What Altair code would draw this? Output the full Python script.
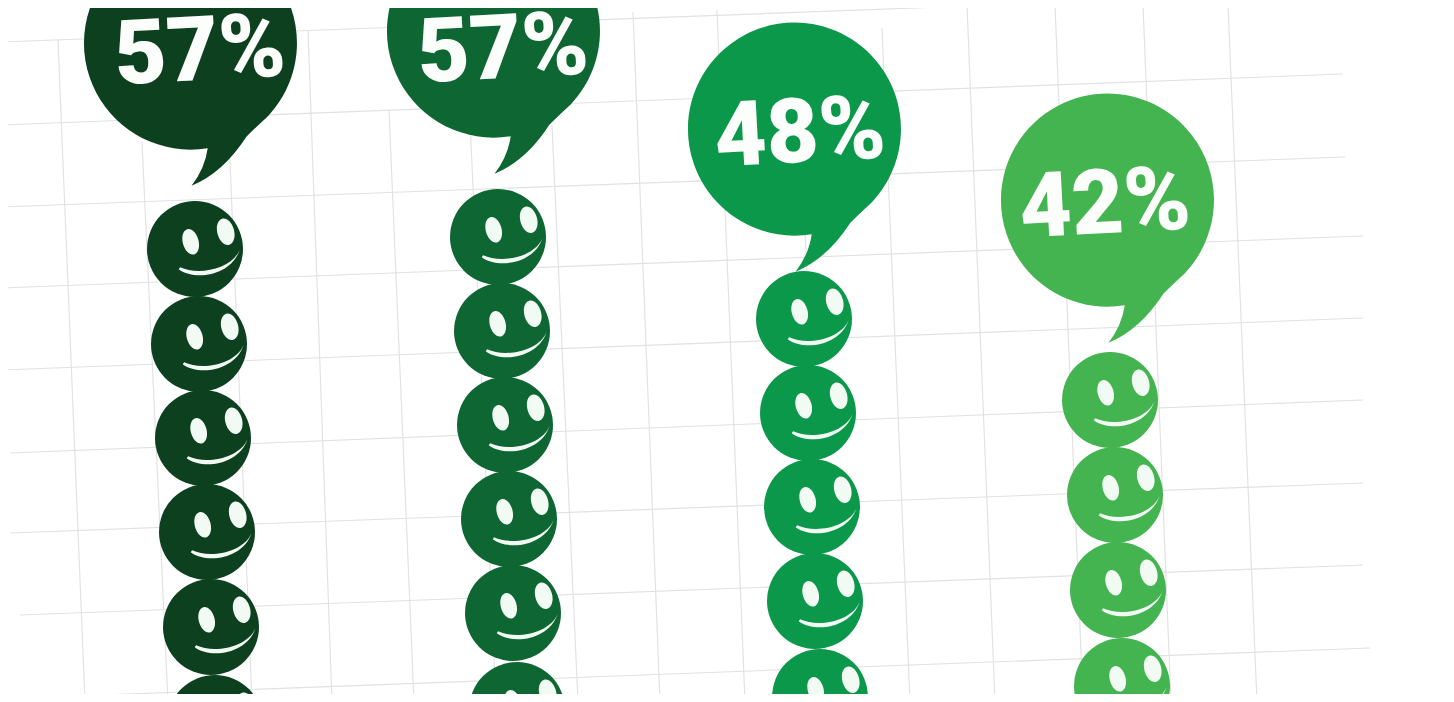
import altair as alt
import pandas as pd

# Picture coordinates (x to the right, y downwards)
PAGE_MARGIN = 8
CANVAS_W = 1454
CANVAS_H = 702

h_x1 = [0, 0, 0, 0, 0, 10, 10, 20, 20]
h_y1 = [42, 125, 207, 288, 370, 453, 533, 615, 698]
h_x2 = [1210, 1343, 1345, 1363, 1363, 1363, 1363, 1363, 1370]
h_y2 = [-3, 74, 157, 236, 318, 400, 483, 565, 648]

v_x1 = [58, 142, 225, 308, 389, 470, 552, 633, 717, 800, 882, 967, 1055, 1143, 1228]
v_y1 = [40, 142, 38, 30, 110, 120, 125, 12, 10, 130, 28, 5, 5, 5, 5]
v_x2 = [85, 168, 252, 332, 414, 496, 578, 660, 745, 828, 910, 995, 1083, 1171, 1257]
v_y2 = [702] * 15

face_fill = ["#0d401f", "#0e6632", "#0b984a", "#43b44f"]
labels = ["57%", "57%", "48%", "42%"]

bubble_x = [191, 494, 795, 1108]
bubble_y = [43, 31, 129, 200]
label_x = [200, 503, 800, 1105]
label_y = [53, 51, 135, 206]

smile_x = [
    [195, 199, 203, 207, 211, 215],
    [498, 502, 505, 509, 513, 517],
    [804, 808, 812, 815, 820],
    [1110, 1115, 1118, 1122],
]
smile_y = [
    [249, 344, 438, 532, 627, 723],
    [237, 331, 425, 519, 613, 710],
    [319, 413, 507, 601, 697],
    [400, 495, 590, 686],
]

BUBBLE_PATH = (
    "M .72 .69 A 1 1 0 1 0 .157 .988 Q .13 1.18 .005 1.34 "
    "Q .3 1.22 .52 .88 Q .6 .8 .72 .69 Z"
)
FACE_PATH = (
    "M -.16 -.412 A .165 .27 -15 1 1 -.02 .112 A .165 .27 -15 1 1 -.16 -.412 Z "
    "M .567 -.632 A .175 .28 -15 1 1 .713 -.088 A .175 .28 -15 1 1 .567 -.632 Z "
    "M -.34 .42 C 0 .67 .75 .56 .93 .02 C .75 .44 .05 .55 -.31 .38 Z"
)

grid_h = pd.DataFrame({"x": h_x1, "y": h_y1, "x2": h_x2, "y2": h_y2})
grid_v = pd.DataFrame({"x": v_x1, "y": v_y1, "x2": v_x2, "y2": v_y2})
bubbles = pd.DataFrame(
    {"x": bubble_x, "y": bubble_y, "fill": face_fill, "label": labels,
     "lx": label_x, "ly": label_y}
)
smiles = pd.DataFrame(
    [
        {"x": x, "y": y, "fill": face_fill[i]}
        for i in range(len(face_fill))
        for x, y in zip(smile_x[i], smile_y[i])
    ]
)

W = CANVAS_W - 2 * PAGE_MARGIN
H = CANVAS_H - 2 * PAGE_MARGIN
xs = alt.Scale(domain=[PAGE_MARGIN, PAGE_MARGIN + W], range=[0, W], nice=False, zero=False)
ys = alt.Scale(domain=[PAGE_MARGIN, PAGE_MARGIN + H], range=[0, H], nice=False, zero=False)
X = lambda f: alt.X(f + ":Q", scale=xs, axis=None)
Y = lambda f: alt.Y(f + ":Q", scale=ys, axis=None)
FILL = alt.Color("fill:N", scale=None, legend=None)
GRID = "#e2e0e2"


def grid(df):
    return (
        alt.Chart(df)
        .mark_rule(color=GRID, strokeWidth=1.1)
        .encode(x=X("x"), y=Y("y"), x2="x2:Q", y2="y2:Q")
    )


circles = (
    alt.Chart(smiles)
    .mark_circle(size=96**2, opacity=1)
    .encode(x=X("x"), y=Y("y"), color=FILL)
)
faces = (
    alt.Chart(smiles)
    .mark_point(shape=FACE_PATH, size=96**2, filled=True, opacity=1, color="#f2fbf3", strokeWidth=0)
    .encode(x=X("x"), y=Y("y"))
)
speech = (
    alt.Chart(bubbles)
    .mark_point(shape=BUBBLE_PATH, size=213**2, filled=True, opacity=1, strokeWidth=0)
    .encode(x=X("x"), y=Y("y"), color=FILL)
)
text = (
    alt.Chart(bubbles)
    .mark_text(
        font="Roboto",
        fontWeight=900,
        fontSize=90,
        angle=357,
        align="center",
        baseline="middle",
        color="#fbfefb",
    )
    .encode(x=X("lx"), y=Y("ly"), text="label:N")
)

chart = (
    alt.layer(grid(grid_h), grid(grid_v), circles, faces, speech, text)
    .properties(width=W, height=H, padding=0, autosize=alt.AutoSizeParams(type="none"))
    .configure_view(strokeWidth=0)
)

chart.save("out.html", embed_options={"renderer": "svg", "actions": False})
